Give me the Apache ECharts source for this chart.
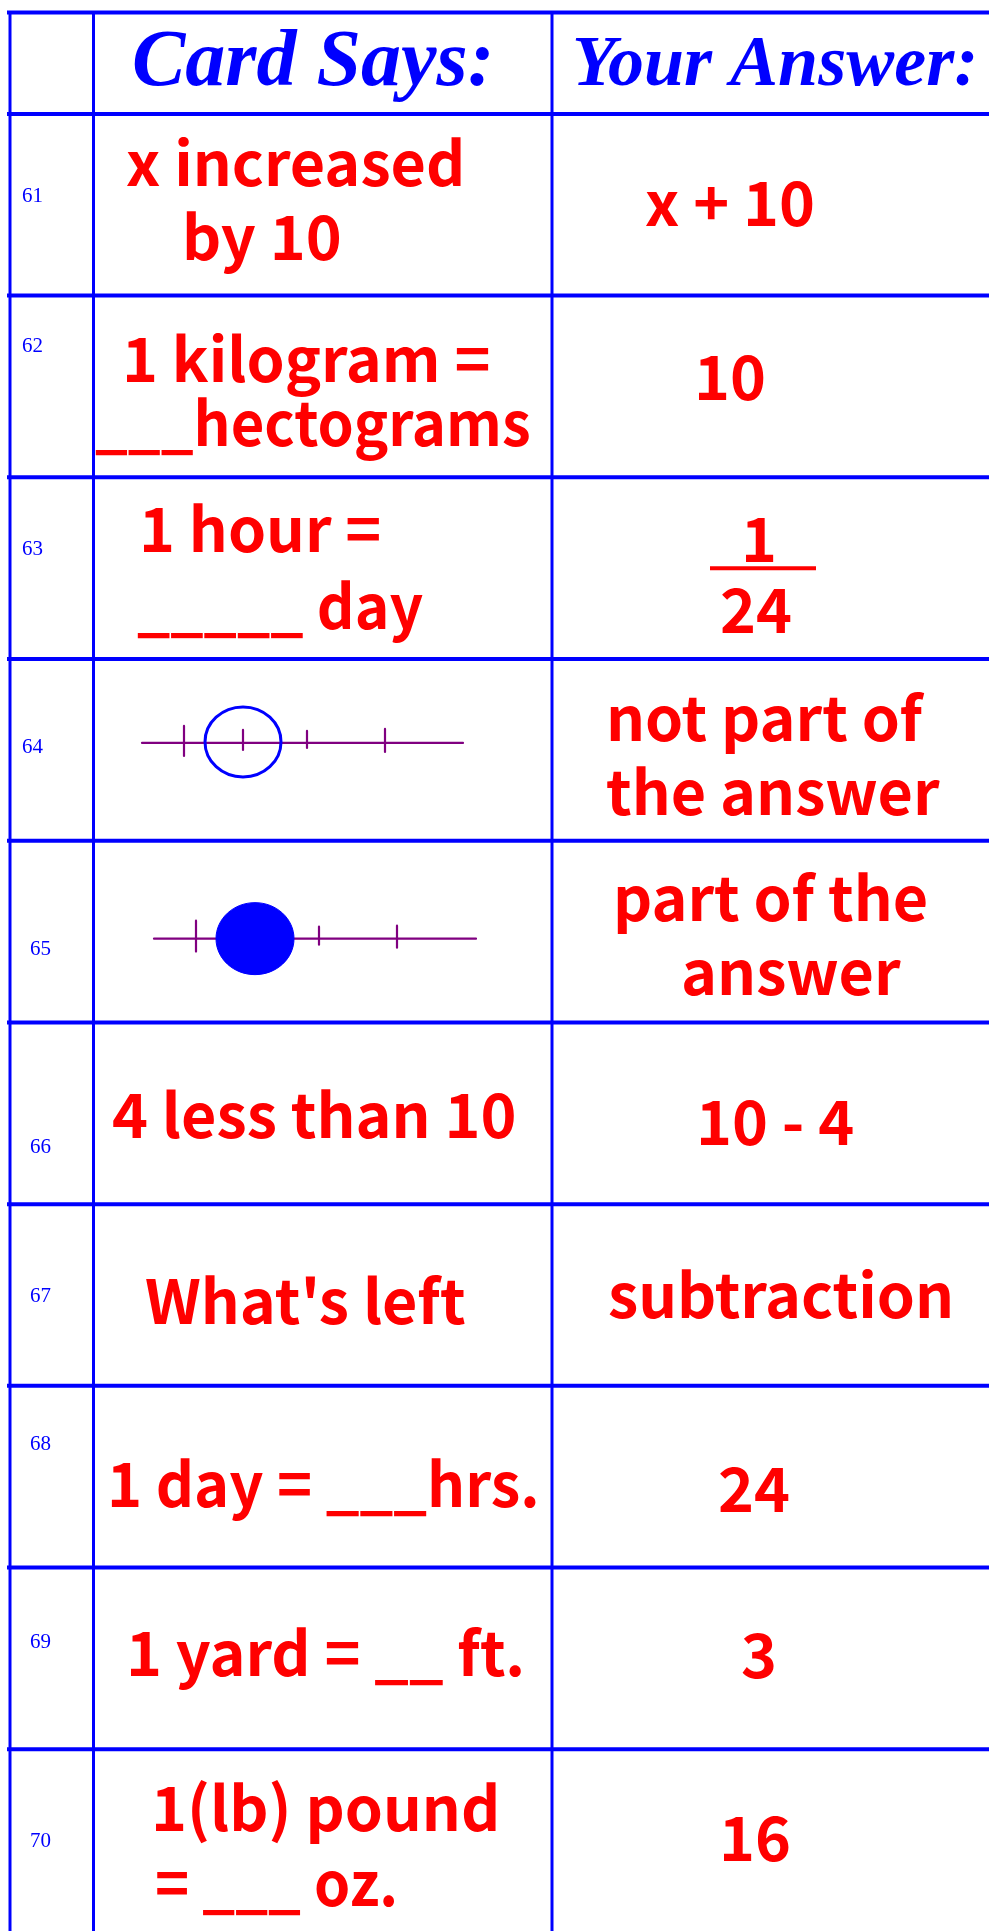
<!DOCTYPE html>
<html>
<head>
<meta charset="utf-8">
<script src="https://cdn.jsdelivr.net/npm/echarts@6/dist/echarts.min.js"></script>
<style>
  html, body { margin: 0; padding: 0; background: #fff; }
  #chart { width: 989px; height: 1931px; }
</style>
</head>
<body>
<div id="chart"></div>
<script>
// ---- table content ----
const headers = ['Card Says:', 'Your Answer:'];
const rowNumbers = ['61', '62', '63', '64', '65', '66', '67', '68', '69', '70'];
const cardSays = [
  ['x increased', 'by 10'],
  ['1 kilogram =', '___hectograms'],
  ['1 hour =', '_____ day'],
  [],                       // number line, open circle
  [],                       // number line, closed circle
  ['4 less than 10'],
  ["What's left"],
  ['1 day = ___hrs.'],
  ['1 yard = __ ft.'],
  ['1(lb) pound', '= ___ oz.']
];
const answers = [
  ['x + 10'],
  ['10'],
  ['1', '24'],              // written as a fraction
  ['not part of', 'the answer'],
  ['part of the', 'answer'],
  ['10 - 4'],
  ['subtraction'],
  ['24'],
  ['3'],
  ['16']
];
const circleFilled = { 3: false, 4: true };
const fractionRows = [2];

// ---- layout (x in px from the left rule, y in px from the row top) ----
const ROW_H = 181.9;
const HEAD = 0.558;                 // header height, in rows
const TABLE_W = 979;
const colX = [0, 83.5, 542];
const BLUE = '#0000ff', RED = '#ff0000', PURPLE = '#800080';
const SANS = '"Noto Sans CJK SC", "Noto Sans", sans-serif';
const SERIF = '"Liberation Serif", "DejaVu Serif", serif';
const RED_SIZE = 61;
const MID_SANS = 0.335;  // canvas 'middle' above baseline, in em
const MID_SERIF = 0.28;

const headerPos = [[122, 74, 80], [562, 74, 72]];
const numberPos = [[12, 89], [12, 57], [12, 78], [12, 94], [20, 115],
                   [20, 131], [20, 98], [20, 65], [20, 81], [20, 98]];
// [x, baseline, horizontal squeeze]
const cardPos = [
  [[116, 69], [172, 144]],
  [[112, 84], [85, 148, 0.95]],
  [[129, 72], [127, 149, 0.963]],
  [], [],
  [[102, 113]],
  [[135, 117]],
  [[97, 119, 0.977]],
  [[116, 106]],
  [[141, 79], [145, 154, 0.95]]
];
const answerPos = [
  [[635, 109]],
  [[684, 102]],
  [[731, 82], [710, 153]],
  [[596, 79], [596, 153]],
  [[603, 78], [671, 152]],
  [[686, 120]],
  [[598, 111]],
  [[708, 124]],
  [[731, 108]],
  [[709, 109]]
];
const fractionBar = [700, 806, 91];
// number-line sketches: line [x1, x2, y], ticks [x, yTop, yBottom], circle [cx, cy, rx, ry]
const sketch = {
  3: { line: [132, 453, 84], ticks: [[174, 67, 97], [233, 71, 91], [297, 72, 89], [375, 70, 93]], circle: [233, 83, 38, 35] },
  4: { line: [144, 466, 98], ticks: [[186, 80, 111], [245, 88, 108], [309, 86, 104], [387, 85, 107]], circle: [245, 98, 39, 36] }
};

function renderItem(params, api) {
  const i = api.value(0);
  const isHead = i < 0;
  const top = isHead ? -HEAD : i;
  const span = isHead ? HEAD : 1;
  const y0 = api.coord([0, top])[1];
  const y1 = api.coord([0, top + span])[1];
  const px = v => api.coord([v, top])[0];
  const py = v => api.coord([0, top + v / ROW_H])[1];
  const kids = [];

  kids.push({ type: 'line', shape: { x1: px(-3), y1: y0, x2: px(TABLE_W + 5), y2: y0 },
    style: { stroke: BLUE, lineWidth: 4 } });
  colX.forEach(c => kids.push({ type: 'line', shape: { x1: px(c), y1: y0, x2: px(c), y2: y1 },
    style: { stroke: BLUE, lineWidth: 3 } }));

  const text = (str, x, base, size, font, mid, color, weight, style, sx) => ({
    type: 'text', x: px(x), y: py(base) - mid * size, scaleX: sx || 1,
    style: { text: str, fill: color, fontSize: size, fontFamily: font,
      fontWeight: weight, fontStyle: style, align: 'left', verticalAlign: 'middle' }
  });

  if (isHead) {
    headers.forEach((h, k) => {
      const p = headerPos[k];
      kids.push(text(h, p[0], p[1], p[2], SERIF, MID_SERIF, BLUE, 'bold', 'italic'));
    });
    return { type: 'group', children: kids };
  }

  const np = numberPos[i];
  kids.push(text(rowNumbers[i], np[0], np[1], 21, SERIF, MID_SERIF, BLUE, 'normal', 'normal'));

  cardSays[i].forEach((s, k) => {
    const p = cardPos[i][k];
    kids.push(text(s, p[0], p[1], RED_SIZE, SANS, MID_SANS, RED, 'bold', 'normal', p[2]));
  });
  answers[i].forEach((s, k) => {
    const p = answerPos[i][k];
    kids.push(text(s, p[0], p[1], RED_SIZE, SANS, MID_SANS, RED, 'bold', 'normal', p[2]));
  });
  if (fractionRows.includes(i)) {
    kids.push({ type: 'line', shape: { x1: px(fractionBar[0]), y1: py(fractionBar[2]), x2: px(fractionBar[1]), y2: py(fractionBar[2]) },
      style: { stroke: RED, lineWidth: 4 } });
  }

  const sk = sketch[i];
  if (sk) {
    kids.push({ type: 'line', shape: { x1: px(sk.line[0]), y1: py(sk.line[2]), x2: px(sk.line[1]), y2: py(sk.line[2]) },
      style: { stroke: PURPLE, lineWidth: 2.2, lineCap: 'round' } });
    sk.ticks.forEach(t => kids.push({ type: 'line', shape: { x1: px(t[0]), y1: py(t[1]), x2: px(t[0]), y2: py(t[2]) },
      style: { stroke: PURPLE, lineWidth: 2.2, lineCap: 'round' } }));
    const c = sk.circle;
    const filled = circleFilled[i];
    kids.push({ type: 'ellipse', shape: { cx: px(c[0]), cy: py(c[1]), rx: c[2], ry: c[3] },
      style: filled ? { fill: BLUE, stroke: BLUE, lineWidth: 1 } : { fill: 'none', stroke: BLUE, lineWidth: 3 } });
  }
  return { type: 'group', children: kids };
}

const chart = echarts.init(document.getElementById('chart'), null, { renderer: 'canvas' });
const rows = [[-1]].concat(rowNumbers.map((n, i) => [i]));
chart.setOption({
  animation: false,
  backgroundColor: '#ffffff',
  grid: { left: 10, top: 114 - HEAD * ROW_H, width: TABLE_W, height: (10 + HEAD) * ROW_H },
  xAxis: { type: 'value', min: 0, max: TABLE_W, show: false },
  yAxis: { type: 'value', min: -HEAD, max: 10, inverse: true, show: false },
  series: [{
    type: 'custom',
    renderItem: renderItem,
    data: rows,
    clip: false,
    silent: true
  }]
});
</script>
</body>
</html>
